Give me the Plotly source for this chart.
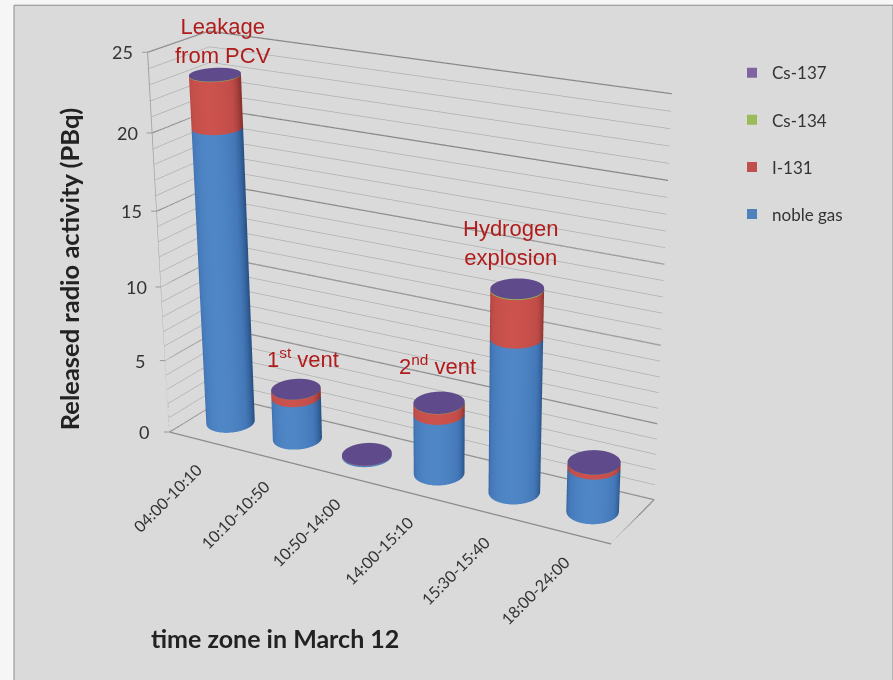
import numpy as np
import plotly.graph_objects as go

categories = ["04:00-10:10", "10:10-10:50", "10:50-14:00", "14:00-15:10", "15:30-15:40", "18:00-24:00"]
noble_gas = [19.9, 2.95, 0.1, 4.05, 10.05, 2.9]
i131 = [3.3, 0.5, 0.02, 0.7, 3.0, 0.3]
cs134 = [0.03, 0.01, 0.0, 0.02, 0.05, 0.01]
cs137 = [0.03, 0.01, 0.0, 0.02, 0.05, 0.01]
minor_ticks = list(range(26))
major_ticks = [0, 5, 10, 15, 20, 25]

W, H = 893, 680
AX, AY, AZ = 1.244, 0.251, 1.0
EYE = (2.155, -3.690, 1.596)
CEN = (0.149, -0.045, -0.013)
FOCAL = 1907.4
PY = 297.8
Hf = 2 * FOCAL * np.tan(np.pi / 8)
off = Hf / 2 - PY

fig = go.Figure()
xr = (-0.5, 5.5); yr = (-1, 1); zr = (0, 25)
rad = 0.295
ry = 1.08 * rad * (AX / 6) / (AY / 2)
flat = dict(ambient=1, diffuse=0, specular=0, roughness=1, fresnel=0)

def side(i, z0, z1, cols):
    th = np.linspace(0, 2 * np.pi, 97)
    T, Z = np.meshgrid(th, np.array([z0, z1]))
    s = np.clip(np.cos(T + np.radians(70)), 0, 1)
    fig.add_trace(go.Surface(x=i + rad * np.cos(T), y=ry * np.sin(T), z=Z, surfacecolor=s, cmin=0, cmax=1,
        colorscale=[[0, cols[0]], [0.55, cols[1]], [1, cols[2]]], showscale=False, hoverinfo="skip", lighting=flat))

def cap(i, z, col):
    T, RR = np.meshgrid(np.linspace(0, 2 * np.pi, 97), np.array([0, 1.0]))
    fig.add_trace(go.Surface(x=i + rad * RR * np.cos(T), y=ry * RR * np.sin(T), z=z + 0 * T, surfacecolor=0 * T, cmin=0, cmax=1,
        colorscale=[[0, col], [1, col]], showscale=False, hoverinfo="skip", lighting=flat))

stack = ((noble_gas, ("#2a5488", "#4478b8", "#4f86c6")), (i131, ("#8a3330", "#c04c48", "#cb524d")),
         (cs134, ("#7a9440", "#9bbb59", "#9bbb59")), (cs137, ("#4a3a70", "#5f4b8b", "#5f4b8b")))
for i in range(len(categories)):
    b = 0
    for vals, cols in stack:
        side(i, b, b + vals[i], cols); b += vals[i]
    cap(i, b, "#5f4b8b")

for name, c in (("Cs-137", "#8064a2"), ("Cs-134", "#9bbb59"), ("I-131", "#c0504d"), ("noble gas", "#4f81bd")):
    fig.add_trace(go.Scatter3d(x=[None], y=[None], z=[None], mode="markers", name=name, legendgroup=name,
        marker=dict(size=10, symbol="square", color=c)))

for z in major_ticks:
    fig.add_trace(go.Scatter3d(x=[xr[0], xr[0], xr[1]], y=[yr[0], yr[1], yr[1]], z=[z, z, z], mode="lines",
        line=dict(color="#868686", width=2.5), showlegend=False, hoverinfo="skip"))
fig.add_trace(go.Scatter3d(x=[xr[0], xr[1], xr[1], xr[0]], y=[yr[1], yr[1], yr[0], yr[0]], z=[0, 0, 0, 0], mode="lines",
    line=dict(color="#8a8a8a", width=2.5), showlegend=False, hoverinfo="skip"))
fig.add_trace(go.Scatter3d(x=[xr[0], xr[0]], y=[yr[0], yr[0]], z=[0, 25], mode="lines",
    line=dict(color="#a0a0a0", width=2), showlegend=False, hoverinfo="skip"))

def Y(y):
    return 1 - (y + off) / Hf

axc = dict(showbackground=False, showspikes=False, zeroline=False, title="", showline=False)
sh = [dict(type="rect", xref="paper", yref="paper", x0=14 / W, x1=1, y0=0, y1=Y(5), fillcolor="#dadada",
           line=dict(color="#8c8c8c", width=1), layer="below")]

def ann(t, x, y, **k):
    d = dict(text=t, x=x / W, y=Y(y), xref="paper", yref="paper", xanchor="center", yanchor="middle", showarrow=False,
             font=dict(family="Liberation Sans", size=22, color="#b01c1c"))
    d.update(k)
    return d

anns = [ann("Leakage<br>from PCV", 223, 41), ann("1<sup>st</sup> vent", 303, 358), ann("2<sup>nd</sup> vent", 437, 365),
        ann("Hydrogen<br>explosion", 511, 243),
        ann("<b>Released radio activity (PBq)</b>", 69, 269, textangle=-90, font=dict(family="Lato", size=25.5, color="#222")),
        ann("<b>time zone in March 12</b>", 275, 638, font=dict(family="Lato", size=25, color="#222"))]
scene_anns = [dict(x=i, y=yr[0], z=0, text=c, textangle=-45, showarrow=False, xshift=-35, yshift=-57,
                   font=dict(family="Lato", size=16, color="#333")) for i, c in enumerate(categories)]
scene_anns += [dict(x=xr[0], y=yr[0], z=v, text=str(v), showarrow=False, xshift=-25, yshift=0,
                    font=dict(family="Lato", size=18, color="#333")) for v in major_ticks]
scene_anns += [dict(x=xr[0], y=yr[0], z=v, text=" ", showarrow=True, arrowhead=0, arrowwidth=1, arrowcolor="#999999", ax=-7, ay=0,
                    font=dict(size=1)) for v in major_ticks]

fig.update_layout(width=W, height=Hf, margin=dict(l=0, r=0, t=0, b=0), paper_bgcolor="#f6f6f6", shapes=sh, annotations=anns,
    legend=dict(x=732 / W, y=Y(55), xanchor="left", yanchor="top", tracegroupgap=22, font=dict(family="Lato", size=17, color="#333"), bgcolor="rgba(0,0,0,0)"),
    scene=dict(domain=dict(x=[0, 1], y=[0, 1]), bgcolor="rgba(0,0,0,0)", annotations=scene_anns,
        aspectmode="manual", aspectratio=dict(x=AX, y=AY, z=AZ),
        camera=dict(eye=dict(x=EYE[0], y=EYE[1], z=EYE[2]), center=dict(x=CEN[0], y=CEN[1], z=CEN[2]), up=dict(x=0, y=0, z=1), projection=dict(type="perspective")),
        xaxis=dict(axc, range=xr, showticklabels=False, showgrid=False),
        yaxis=dict(axc, range=yr, showgrid=False, showticklabels=False),
        zaxis=dict(axc, range=zr, tickvals=minor_ticks, showticklabels=False, showgrid=True, gridcolor="#afafaf", gridwidth=1.5)))
ps = "document.documentElement.style.overflow='hidden';document.body.style.margin='0';document.body.style.overflow='hidden';document.querySelector('.plotly-graph-div').style.marginTop='%dpx';" % (-round(off))
fig.write_html("out.html", config=dict(displayModeBar=False), post_script=ps)
